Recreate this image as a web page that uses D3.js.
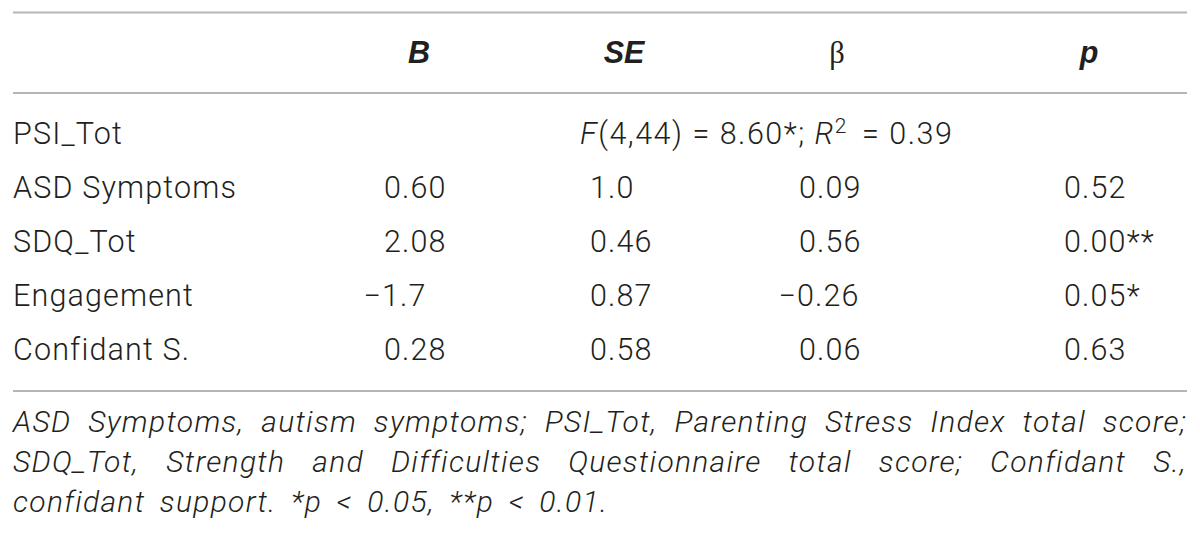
<!DOCTYPE html>
<html>
<head>
<meta charset="utf-8">
<script src="https://cdn.jsdelivr.net/npm/d3@7"></script>
<style>
  html, body { margin: 0; padding: 0; background: #fff; }
  svg { display: block; }
  text { font-family: Roboto, "Liberation Sans", Arial, sans-serif; font-weight: 300; fill: #231f20; }
</style>
</head>
<body>
<svg id="chart" width="1200" height="537"></svg>
<script>
// ---- data ----
const headers = ["B", "SE", "β", "p"];
const outcome = "PSI_Tot";
const modelF = "(4,44) = 8.60*; ";
const modelR2 = " = 0.39";
const predictors = ["ASD Symptoms", "SDQ_Tot", "Engagement", "Confidant S."];
const valB = ["0.60", "2.08", "−1.7", "0.28"];
const valSE = ["1.0", "0.46", "0.87", "0.58"];
const valBeta = ["0.09", "0.56", "−0.26", "0.06"];
const valP = ["0.52", "0.00**", "0.05*", "0.63"];
const footnoteLines = [
  "ASD Symptoms, autism symptoms; PSI_Tot, Parenting Stress Index total score;",
  "SDQ_Tot, Strength and Difficulties Questionnaire total score; Confidant S.,",
  "confidant support. *p < 0.05, **p < 0.01."
];

// ---- layout ----
const svg = d3.select("#chart");
const left = 13, right = 1187;
const fs = 30.5;
const ls = 1.15;

const cols = ["B", "SE", "beta", "p"];
const colX = d3.scaleOrdinal().domain(cols).range([384, 590, 799, 1064]);
const headX = d3.scaleOrdinal().domain(headers).range([419, 624, 837, 1089]);
const rowY = d3.scalePoint().domain([outcome, ...predictors]).range([144, 360]);
const footY = d3.scalePoint().domain(d3.range(footnoteLines.length)).range([432, 512]);

// rules
const rules = [12.5, 93, 391];
svg.selectAll("line.rule").data(rules).join("line")
  .attr("class", "rule")
  .attr("x1", left).attr("x2", right)
  .attr("y1", d => d).attr("y2", d => d)
  .attr("stroke", "#b5b5b5").attr("stroke-width", 2);

// headers
svg.selectAll("text.head").data(headers).join("text")
  .attr("class", "head")
  .attr("x", d => headX(d))
  .attr("y", 63)
  .attr("text-anchor", "middle")
  .style("font-size", fs + "px")
  .style("font-weight", d => d === "β" ? "normal" : "bold")
  .style("font-style", d => d === "β" ? "normal" : "italic")
  .style("font-family", d => d === "β" ? "'Liberation Serif', 'Times New Roman', serif" : "'Liberation Sans', Arial, sans-serif")
  .text(d => d);

// outcome row
svg.append("text")
  .attr("x", left).attr("y", rowY(outcome))
  .style("font-size", fs + "px")
  .style("letter-spacing", ls + "px")
  .text(outcome);

const ft = svg.append("text")
  .attr("x", 580).attr("y", rowY(outcome))
  .style("font-size", fs + "px")
  .style("letter-spacing", "1.5px");
ft.append("tspan").style("font-style", "italic").text("F");
ft.append("tspan").text(modelF);
ft.append("tspan").style("font-style", "italic").text("R");
ft.append("tspan").attr("dy", -11).style("font-size", "21px").text("2");
ft.append("tspan").attr("dy", 11).attr("dx", 5).text(modelR2);

// predictor labels
svg.selectAll("text.label").data(predictors).join("text")
  .attr("class", "label")
  .attr("x", left)
  .attr("y", d => rowY(d))
  .style("font-size", fs + "px")
  .style("letter-spacing", ls + "px")
  .text(d => d);

// minus width measurement
const probe = svg.append("text").style("font-size", fs + "px").style("letter-spacing", ls + "px").text("−");
const minusW = probe.node().getComputedTextLength();
probe.remove();

const columns = [
  { key: "B", vals: valB },
  { key: "SE", vals: valSE },
  { key: "beta", vals: valBeta },
  { key: "p", vals: valP }
];
columns.forEach(c => {
  svg.selectAll("text.v-" + c.key).data(c.vals).join("text")
    .attr("class", "v-" + c.key)
    .attr("x", d => colX(c.key) - (d.startsWith("−") ? minusW + 2 : 0))
    .attr("y", (d, i) => rowY(predictors[i]))
    .style("font-size", fs + "px")
    .style("letter-spacing", ls + "px")
    .text(d => d);
});

// footnote (justified)
const fn = svg.selectAll("text.foot").data(footnoteLines).join("text")
  .attr("class", "foot")
  .attr("x", left)
  .attr("y", (d, i) => footY(i))
  .style("font-size", "30px")
  .style("font-style", "italic")
  .style("letter-spacing", "1.3px")
  .text(d => d);
fn.each(function(d, i) {
  const spaces = (d.match(/ /g) || []).length;
  if (i === footnoteLines.length - 1) {
    d3.select(this).attr("word-spacing", 6);
    return;
  }
  const w = this.getComputedTextLength();
  const ws = (right - left - w) / spaces;
  d3.select(this).attr("word-spacing", ws);
});
</script>
</body>
</html>
